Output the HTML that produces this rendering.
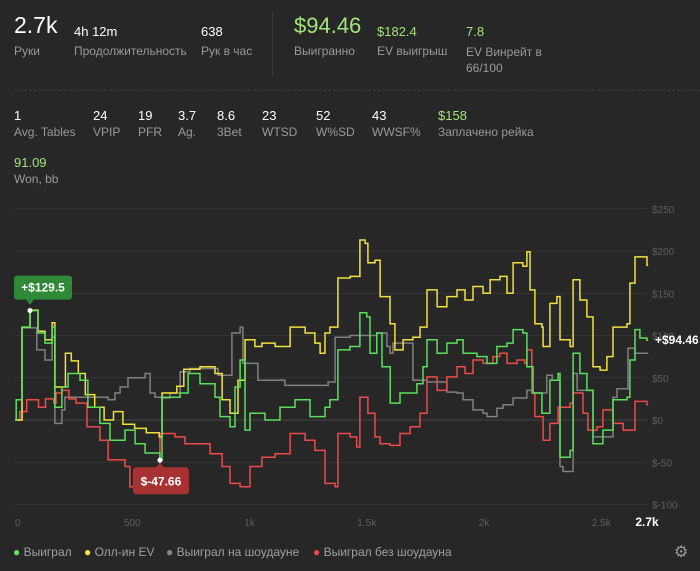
<!DOCTYPE html>
<html><head><meta charset="utf-8">
<style>
body{margin:0;width:700px;height:571px;background:#272727;font-family:"Liberation Sans",sans-serif;color:#fff;overflow:hidden;position:relative}
.t{position:absolute;white-space:nowrap}
.v{font-size:13px;color:#fff}
.l{font-size:12px;color:#9a9a9a}
.g{color:#a4e27a}
svg{position:absolute;left:0;top:0}
</style></head><body>
<div>
<div class="t" style="left:14px;top:12px;font-size:23px">2.7k</div>
<div class="t l" style="left:14px;top:44px">Руки</div>
<div class="t v" style="left:74px;top:24px">4h 12m</div>
<div class="t l" style="left:74px;top:44px">Продолжительность</div>
<div class="t v" style="left:201px;top:24px">638</div>
<div class="t l" style="left:201px;top:44px">Рук в час</div>
<div style="position:absolute;left:272px;top:12px;width:1px;height:64px;background:#3a3a3a"></div>
<div class="t g" style="left:294px;top:13px;font-size:22px">$94.46</div>
<div class="t l" style="left:294px;top:44px">Выигранно</div>
<div class="t v g" style="left:377px;top:24px">$182.4</div>
<div class="t l" style="left:377px;top:44px">EV выигрыш</div>
<div class="t v g" style="left:466px;top:24px">7.8</div>
<div class="t l" style="left:466px;top:44px;line-height:16px">EV Винрейт в<br>66/100</div>
<div style="position:absolute;left:14px;top:90px;width:686px;border-top:1px dashed #3c3c3c"></div>
<div class="t v" style="left:14px;top:108px">1</div>
<div class="t l" style="left:14px;top:125px">Avg. Tables</div>
<div class="t v" style="left:93px;top:108px">24</div>
<div class="t l" style="left:93px;top:125px">VPIP</div>
<div class="t v" style="left:138px;top:108px">19</div>
<div class="t l" style="left:138px;top:125px">PFR</div>
<div class="t v" style="left:178px;top:108px">3.7</div>
<div class="t l" style="left:178px;top:125px">Ag.</div>
<div class="t v" style="left:217px;top:108px">8.6</div>
<div class="t l" style="left:217px;top:125px">3Bet</div>
<div class="t v" style="left:262px;top:108px">23</div>
<div class="t l" style="left:262px;top:125px">WTSD</div>
<div class="t v" style="left:316px;top:108px">52</div>
<div class="t l" style="left:316px;top:125px">W%SD</div>
<div class="t v" style="left:372px;top:108px">43</div>
<div class="t l" style="left:372px;top:125px">WWSF%</div>
<div class="t v g" style="left:438px;top:108px">$158</div>
<div class="t l" style="left:438px;top:125px">Заплачено рейка</div>
<div class="t v g" style="left:14px;top:155px">91.09</div>
<div class="t l" style="left:14px;top:172px">Won, bb</div>
</div>

<svg id="chart" width="700" height="571" font-family="Liberation Sans, sans-serif"></svg>

<div style="position:absolute;left:0;top:545px;font-size:12px;color:#a0a0a0">
<div class="t" style="left:13px;top:0"><span style="color:#5fe35f">●</span> Выиграл</div>
<div class="t" style="left:84px;top:0"><span style="color:#f2e640">●</span> Олл-ин EV</div>
<div class="t" style="left:166px;top:0"><span style="color:#888">●</span> Выиграл на шоудауне</div>
<div class="t" style="left:313px;top:0"><span style="color:#f04848">●</span> Выиграл без шоудауна</div>
<div class="t" style="left:674px;top:-3px;font-size:16px;color:#999">⚙</div>
</div>

<script>
const yTicks=[250,200,150,100,50,0,-50,-100];
const yTickLabels=["$250","$200","$150","$100","$50","$0","$-50","$-100"];
const xTicks=[0,500,1000,1500,2000,2500];
const xTickLabels=["0","500","1k","1.5k","2k","2.5k"];
const wonHands=[0,5,30,64,98,128,158,170,200,226,277,311,362,405,469,512,555,618,627,704,738,789,853,874,917,938,960,981,1002,1066,1130,1194,1258,1322,1343,1377,1428,1471,1500,1514,1543,1565,1600,1642,1714,1740,1757,1800,1842,1885,1911,1970,2013,2055,2098,2124,2166,2183,2209,2247,2281,2316,2324,2367,2380,2409,2439,2465,2507,2550,2610,2622,2644,2665,2695];
const wonValues=[0,24,110,129.5,103,91,110,15,39,55,47,15,-4,-24,-12,-28,-39,-47.66,27,32,55,43,27,4,-8,39,71,-12,8,0,15,24,4,15,24,83,87,127,122,79,103,63,20,32,43,63,95,79,91,95,79,75,67,87,91,107,103,63,32,8,47,55,-44,-36,79,55,35,-28,-12,24,27,71,107,97,94.46];
const evHands=[0,30,64,98,128,158,170,215,240,270,300,340,380,420,460,510,560,615,627,690,720,789,853,883,917,951,981,1023,1053,1109,1173,1237,1279,1301,1322,1343,1377,1429,1471,1493,1505,1535,1557,1586,1599,1620,1655,1697,1727,1757,1800,1842,1885,1919,1953,1996,2026,2068,2098,2124,2166,2183,2196,2217,2247,2252,2281,2311,2324,2367,2380,2409,2439,2465,2495,2524,2550,2610,2622,2644,2695];
const evValues=[0,110,130,105,95,115,39,79,70,55,30,15,0,10,-5,-10,-15,-20,32,40,60,63,55,24,8,47,95,87,91,87,110,103,91,79,103,110,168,170,213,209,186,189,146,146,114,83,95,98,110,154,134,146,154,142,158,150,166,170,150,186,182,199,154,114,110,87,138,146,95,87,166,142,122,63,59,75,110,114,162,193,183];
const sdHands=[0,30,93,128,158,170,200,213,397,426,448,482,555,576,597,627,661,704,746,866,925,960,972,1036,1151,1335,1365,1429,1543,1586,1599,1612,1697,1757,1842,1885,1911,1953,1996,2013,2055,2081,2124,2183,2209,2268,2291,2316,2324,2337,2380,2397,2465,2507,2550,2567,2614,2644,2695];
const sdValues=[0,109,83,71,98,-4,12,27,24,32,39,50,55,32,27,26,32,57,61,53,103,110,67,47,41,45,98,100,103,87,79,91,47,45,33,32,24,12,8,4,14,18,26,35,32,53,47,47,-55,-61,55,35,-20,-20,27,37,85,79,79];
const nsdHands=[0,20,50,100,130,165,175,200,230,260,307,362,397,469,490,555,618,682,725,832,883,917,960,1002,1053,1109,1173,1237,1279,1322,1365,1377,1429,1457,1471,1505,1535,1557,1599,1642,1685,1727,1757,1800,1842,1885,1919,1953,1996,2038,2068,2098,2141,2174,2183,2204,2217,2252,2281,2316,2367,2380,2422,2443,2482,2507,2550,2593,2631,2644,2695];
const nsdValues=[0,10,24,15,25,20,32,35,25,20,-8,-24,-47,-55,-79,-75,-16,-20,-28,-40,-55,-75,-79,-55,-44,-40,-16,-24,-36,-75,-79,-16,-20,-32,27,8,-20,-28,-30,-16,-8,8,51,35,51,63,55,71,67,75,79,67,71,67,83,32,4,-24,-4,15,20,32,8,-12,-8,12,-4,-12,-12,22,18];

const svg=document.getElementById('chart');
const NS='http://www.w3.org/2000/svg';
const X=h=>15+h*0.2345;
const Y=v=>420-v*0.845;
function el(tag,attrs,parent){const e=document.createElementNS(NS,tag);for(const k in attrs)e.setAttribute(k,attrs[k]);(parent||svg).appendChild(e);return e;}

yTicks.forEach((v,i)=>{
  const ln=el('line',{x1:15,x2:647,y1:Y(v),y2:Y(v),stroke:v===0?'#444':'#353535','stroke-width':1});
  
  
  const t=el('text',{x:652,y:Y(v)+4,fill:'#5f5f5f','font-size':10});
  t.textContent=yTickLabels[i];
  
  
});
xTicks.forEach((h,i)=>{
  const t=el('text',{x:X(h),y:526,fill:'#5f5f5f','font-size':10,'text-anchor':i===0?'start':'middle'});
  t.textContent=xTickLabels[i];
  
  
});
const endT=el('text',{x:647,y:526,fill:'#fff','font-size':12,'font-weight':'bold','text-anchor':'middle'});
endT.textContent='2.7k';



function series(hs,vs,color,name){
  let d='M'+X(hs[0])+' '+Y(vs[0]);
  for(let i=1;i<hs.length;i++){d+=' H'+X(hs[i]).toFixed(1)+' V'+Y(vs[i]).toFixed(1);}
  d+=' H'+X(2700);
  const p=el('path',{d:d,fill:'none',stroke:color,'stroke-width':1.5});
  
  
}
series(sdHands,sdValues,'#808080','showdown-line');
series(nsdHands,nsdValues,'#ee4a4a','non-showdown-line');
series(evHands,evValues,'#f0e23c','allin-ev-line');
series(wonHands,wonValues,'#5be05b','won-line');

// markers
const maxI=wonValues.indexOf(Math.max(...wonValues));
const minI=wonValues.indexOf(Math.min(...wonValues));
const mx=X(wonHands[maxI]),my=Y(wonValues[maxI]);
const nx=X(wonHands[minI]),ny=Y(wonValues[minI]);
const g1=el('g',{});


el('rect',{x:mx-16,y:my-35,width:58,height:24,rx:3,fill:'#2f8a37'},g1);
el('path',{d:`M${mx-4} ${my-11} L${mx} ${my-6} L${mx+4} ${my-11}Z`,fill:'#2f8a37'},g1);
const t1=el('text',{x:mx+13,y:my-19,fill:'#fff','font-size':12,'font-weight':'bold','text-anchor':'middle'},g1);
t1.textContent='+$'+wonValues[maxI];
el('circle',{cx:mx,cy:my,r:2.5,fill:'#fff'},g1);
const g2=el('g',{});


el('rect',{x:nx-27,y:ny+7,width:56,height:27,rx:3,fill:'#a83232'},g2);
el('path',{d:`M${nx-4} ${ny+7} L${nx} ${ny+3} L${nx+4} ${ny+7}Z`,fill:'#a83232'},g2);
const t2=el('text',{x:nx+1,y:ny+25,fill:'#fff','font-size':12,'font-weight':'bold','text-anchor':'middle'},g2);
t2.textContent='$'+wonValues[minI];
el('circle',{cx:nx,cy:ny,r:2.5,fill:'#fff'},g2);
const last=wonValues[wonValues.length-1];
const t3=el('text',{x:655,y:Y(last)+4,fill:'#fff','font-size':12,'font-weight':'bold'});
t3.textContent='+$'+last;


</script>
</body></html>
